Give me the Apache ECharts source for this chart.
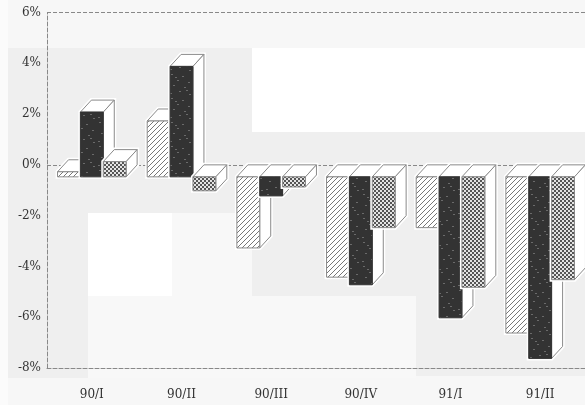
<!DOCTYPE html>
<html><head><meta charset="utf-8">
<style>html,body{margin:0;padding:0;background:#f7f7f7}#c{width:585px;height:405px;filter:blur(0.45px)}</style>
<script src="https://cdn.jsdelivr.net/npm/echarts@6/dist/echarts.min.js"></script>
</head><body><div id="c"></div>
<script>
const categories = ['90/I','90/II','90/III','90/IV','91/I','91/II'];
const hatched = [0.2, 2.2, -2.8, -3.95, -2.0, -6.15];
const solid   = [2.55, 4.35, -0.75, -4.25, -5.55, -7.15];
const crossed = [0.6, -0.55, -0.4, -2.0, -4.35, -4.05];
const yMin = -8, yMax = 6, yStep = 2;

function tile(w, h, draw){ const c = document.createElement('canvas'); c.width = w; c.height = h; draw(c.getContext('2d')); return {image:c, repeat:'repeat'}; }
const hatchFill = tile(5,5,g=>{ g.fillStyle='#fff'; g.fillRect(0,0,5,5); g.strokeStyle='#777'; g.lineWidth=1;
  [[-1,6,6,-1],[-1,1,1,-1],[4,6,6,4]].forEach(a=>{g.beginPath();g.moveTo(a[0],a[1]);g.lineTo(a[2],a[3]);g.stroke();}); });
const crossFill = tile(4,4,g=>{ g.fillStyle='#e4e4e4'; g.fillRect(0,0,4,4); g.fillStyle='#555';
  [[0,0],[2,2]].forEach(p=>{g.fillRect(p[0],p[1],2,2);}); });
const solidFill = tile(24,24,g=>{ g.fillStyle='#333'; g.fillRect(0,0,24,24); g.fillStyle='#6a6a6a';
  [[3,2],[14,4],[9,8],[20,10],[5,13],[16,15],[11,19],[2,21],[21,22],[7,5],[18,18]].forEach(p=>g.fillRect(p[0],p[1],2,1)); });

const dX = 11, dY = 12;
function bar(values, slot, fill, edge){
  return {
    type:'custom', coordinateSystem:'cartesian2d', clip:false,
    data: values.map((v,i)=>[i,v]),
    encode:{x:0,y:1},
    renderItem:(p,api)=>{
      const base = api.coord([api.value(0),0]);
      const top  = api.coord([api.value(0),api.value(1)]);
      const w = api.size([1,0])[0]*0.255;
      const x0 = base[0]+(slot-1.5)*w, x1 = x0+w;
      const y0 = base[1]+dY, yv = top[1]+dY;
      const yT = Math.min(y0,yv), yB = Math.max(y0,yv);
      const halo = [[x0,yT],[x0+dX,yT-dY],[x1+dX,yT-dY],[x1+dX,yB-dY],[x1,yB],[x0,yB]];
      const line = {stroke:'#8a8a8a',lineWidth:1};
      return {type:'group',children:[
        {type:'polygon',shape:{points:halo},style:{fill:'#fff',stroke:'#fff',lineWidth:4}},
        {type:'polygon',shape:{points:[[x0,yT],[x0+dX,yT-dY],[x1+dX,yT-dY],[x1,yT]]},style:{fill:'#fff',...line}},
        {type:'polygon',shape:{points:[[x1,yT],[x1+dX,yT-dY],[x1+dX,yB-dY],[x1,yB]]},style:{fill:'#fff',...line}},
        {type:'rect',shape:{x:x0,y:yT,width:w,height:yB-yT},style:{fill:fill,stroke:edge,lineWidth:1}}
      ]};
    }
  };
}
function block(x,y,w,h,c){ return {type:'rect',z:-100,silent:true,shape:{x,y,width:w,height:h},style:{fill:c}}; }
const G='#efefef', W='#ffffff', L='#f8f8f8';
const chart = echarts.init(document.getElementById('c'),null,{renderer:'canvas'});
const frameLine = {type:[4,2],color:'#888',width:1};
const series = [bar(hatched,0,hatchFill,'#8a8a8a'),bar(solid,1,solidFill,'#333'),bar(crossed,2,crossFill,'#8a8a8a')];
series[0].markLine = {silent:true,symbol:'none',label:{show:false},z:0,lineStyle:frameLine,
  data:[{yAxis:yMax},{yAxis:0},{yAxis:yMin}]};
chart.setOption({
  animation:false, backgroundColor:'#f7f7f7',
  graphic:{elements:[
    block(0,0,8,405,'#fbfbfb'),
    block(8,48,244,165,G), block(252,48,333,84,W), block(252,132,333,164,G),
    block(8,213,80,165,G), block(88,213,84,83,W), block(172,213,80,83,L),
    block(88,296,328,82,L), block(416,296,169,80,G)
  ]},
  grid:{left:47,right:-1,top:12.5,bottom:37,containLabel:false},
  xAxis:{type:'category',data:categories,position:'bottom',
    axisLine:{onZero:false,lineStyle:frameLine},axisTick:{show:false},
    axisLabel:{margin:21,fontFamily:'DejaVu Serif',fontSize:12,color:'#333'},splitLine:{show:false}},
  yAxis:{type:'value',min:yMin,max:yMax,interval:yStep,
    axisLine:{show:true,lineStyle:frameLine},axisTick:{show:false},splitLine:{show:false},
    axisLabel:{margin:6,fontFamily:'DejaVu Serif',fontSize:12,color:'#333',formatter:v=>v+'%'}},
  series
});
</script></body></html>
